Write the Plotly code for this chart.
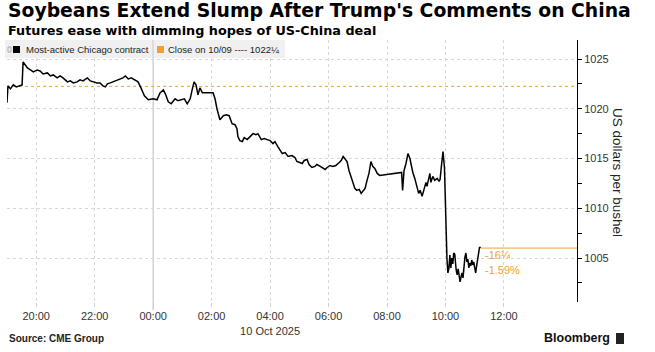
import pandas as pd
import plotly.graph_objects as go

# ---------------- data ----------------
times = [
    "19:00", "19:02", "19:07", "19:13", "19:19", "19:27", "19:31", "19:33", "19:37", "19:42",
    "19:48", "19:54", "20:02", "20:08", "20:14", "20:23", "20:29", "20:35", "20:43", "20:49",
    "20:55", "21:04", "21:10", "21:16", "21:24", "21:30", "21:36", "21:45", "21:51", "21:57",
    "22:05", "22:11", "22:17", "22:22", "22:26", "22:32", "22:38", "22:46", "22:52", "22:58",
    "23:03", "23:09", "23:15", "23:21", "23:29", "23:35", "23:42", "23:46", "23:50", "00:00",
    "00:08", "00:14", "00:21", "00:25", "00:31", "00:37", "00:45", "00:51", "00:57", "01:04",
    "01:10", "01:16", "01:20", "01:24", "01:28", "01:32", "01:36", "01:41", "01:49", "01:57",
    "02:03", "02:07", "02:11", "02:17", "02:24", "02:30", "02:36", "02:42", "02:48", "02:52",
    "02:54", "02:58", "03:03", "03:07", "03:13", "03:19", "03:25", "03:31", "03:35", "03:42",
    "03:48", "03:54", "04:00", "04:06", "04:10", "04:16", "04:21", "04:25", "04:31", "04:37",
    "04:45", "04:51", "04:55", "05:02", "05:06", "05:10", "05:16", "05:20", "05:26", "05:32",
    "05:36", "05:43", "05:49", "05:53", "05:57", "06:03", "06:09", "06:15", "06:22", "06:26",
    "06:30", "06:34", "06:38", "06:42", "06:46", "06:50", "06:54", "06:58", "07:03", "07:07",
    "07:11", "07:15", "07:19", "07:23", "07:27", "07:31", "07:35", "07:40", "07:45",
    "08:30", "08:32", "08:35", "08:39", "08:43", "08:47", "08:50", "08:53", "08:57", "09:02",
    "09:05", "09:08", "09:12", "09:16", "09:20", "09:22", "09:26", "09:28", "09:30", "09:34",
    "09:38", "09:43", "09:47", "09:49", "09:52", "09:55", "09:58", "09:59", "10:01", "10:02",
    "10:03", "10:05", "10:07", "10:09", "10:11", "10:13", "10:15", "10:17", "10:19", "10:22",
    "10:24", "10:26", "10:28", "10:30", "10:32", "10:34", "10:36", "10:38", "10:40", "10:42",
    "10:44", "10:46", "10:48", "10:50", "10:52", "10:54", "10:56", "10:58", "11:00", "11:02",
    "11:04", "11:06", "11:08", "11:10", "11:12",
]
prices = [
    1020.6, 1022.3, 1022.0, 1022.4, 1022.2, 1022.3, 1022.4, 1024.7, 1024.4, 1024.1,
    1023.9, 1023.7, 1023.9, 1023.8, 1023.5, 1023.6, 1023.3, 1023.4, 1023.1, 1023.3,
    1023.1, 1022.7, 1022.8, 1022.6, 1022.7, 1022.9, 1022.8, 1023.1, 1022.8, 1022.7,
    1022.6, 1022.6, 1022.3, 1022.2, 1022.5, 1022.6, 1022.7, 1022.9, 1023.0, 1023.1,
    1023.3, 1023.0, 1023.1, 1022.9, 1022.7, 1022.1, 1021.3, 1021.1, 1020.9, 1021.0,
    1020.9, 1021.6, 1021.9, 1021.5, 1020.7, 1020.5, 1021.0, 1020.8, 1020.9, 1021.0,
    1020.5, 1021.0, 1021.9, 1022.7, 1022.4, 1021.4, 1022.1, 1021.6, 1021.6, 1021.6,
    1021.6, 1021.0, 1020.0, 1018.9, 1019.3, 1019.4, 1019.3, 1018.5, 1018.4, 1018.0,
    1017.2, 1016.8, 1016.7, 1017.1, 1016.9, 1017.2, 1017.5, 1017.4, 1017.5, 1016.9,
    1017.0, 1016.9, 1016.8, 1016.5, 1016.7, 1016.2, 1015.8, 1015.5, 1015.6, 1015.2,
    1015.3, 1015.1, 1014.7, 1014.6, 1014.5, 1014.8, 1014.9, 1014.4, 1014.1, 1014.2,
    1014.4, 1014.2, 1014.0, 1013.9, 1014.1, 1014.3, 1014.2, 1014.3, 1014.6, 1014.8,
    1015.2, 1015.0, 1014.7, 1013.8, 1013.2, 1012.5, 1012.0, 1011.8, 1011.9, 1011.5,
    1011.7, 1012.0, 1012.8, 1013.5, 1014.7, 1014.2, 1014.0, 1013.5, 1013.3,
    1013.6, 1011.8, 1013.8, 1014.5, 1015.5, 1015.0, 1014.2, 1013.6, 1013.0, 1012.0,
    1011.5, 1011.8, 1011.2, 1011.9, 1012.6, 1012.2, 1013.2, 1013.5, 1012.6, 1013.2,
    1012.8, 1013.0, 1012.7, 1012.9, 1014.4, 1015.7, 1014.0, 1012.0, 1008.2, 1006.2,
    1005.0, 1003.5, 1003.9, 1005.3, 1004.0, 1005.0, 1004.4, 1005.5, 1005.4, 1003.8,
    1003.3, 1003.9, 1002.9, 1002.6, 1003.1, 1003.5, 1003.0, 1004.3, 1005.1, 1005.5,
    1004.6, 1004.9, 1004.0, 1004.5, 1004.2, 1004.8, 1004.3, 1004.6, 1003.8, 1003.5,
    1004.2, 1004.8, 1005.4, 1006.1, 1006.0,
]
prev_close = 1022.25
change_text = "-16\u00bc"
change_pct_text = "-1.59%"
tick_times = ["20:00", "22:00", "00:00", "02:00", "04:00", "06:00", "08:00", "10:00", "12:00"]
y_ticks = [1005, 1010, 1015, 1020, 1025]

# -------------- build timestamps --------------
def to_ts(hhmm):
    h = int(hhmm[:2])
    day = "2025-10-09" if h >= 19 else "2025-10-10"
    return pd.Timestamp(f"{day} {hhmm}")

x_ts = [to_ts(t) for t in times]
tick_ts = [to_ts(t) for t in tick_times]
tick_text = [t if t != "04:00" else "04:00<br>10 Oct 2025" for t in tick_times]

x_start = pd.Timestamp("2025-10-09 19:00")
x_end = pd.Timestamp("2025-10-10 14:30")
midnight = pd.Timestamp("2025-10-10 00:00")

ORANGE = "#f0a030"
FONT = "Liberation Sans"
W, H = 655, 352
L, R, T, B = 7, 78, 40, 50
PW, PH = W - L - R, H - T - B

def px(xp):
    return (xp - L) / PW

def py(yp):
    return (H - B - yp) / PH

fig = go.Figure()

# previous close dotted line
fig.add_trace(go.Scatter(x=[x_start, x_end], y=[prev_close, prev_close], mode="lines",
                         line=dict(color=ORANGE, width=1, dash="dot"), hoverinfo="skip",
                         showlegend=False))
# last price line
fig.add_trace(go.Scatter(x=[x_ts[-1], x_end], y=[prices[-1], prices[-1]], mode="lines",
                         line=dict(color=ORANGE, width=1), hoverinfo="skip", showlegend=False))
# main series
fig.add_trace(go.Scatter(x=x_ts, y=prices, mode="lines",
                         line=dict(color="#000000", width=1.5), showlegend=False))

shapes = []
# midnight solid line
shapes.append(dict(type="line", xref="x", yref="paper", x0=midnight, x1=midnight, y0=-0.03, y1=1,
                   line=dict(color="#b8b8b8", width=1), layer="below"))
# legend box
shapes.append(dict(type="rect", xref="paper", yref="paper", x0=px(5), x1=px(285), y0=py(58), y1=py(40),
                   fillcolor="#f0f0f0", line=dict(width=0), layer="above"))
shapes.append(dict(type="line", xref="paper", yref="paper", x0=px(153), x1=px(153), y0=py(58), y1=py(40),
                   line=dict(color="#c8c8c8", width=1)))
shapes.append(dict(type="rect", xref="paper", yref="paper", x0=px(13), x1=px(20), y0=py(53), y1=py(46),
                   fillcolor="#000000", line=dict(width=0)))
shapes.append(dict(type="rect", xref="paper", yref="paper", x0=px(157), x1=px(164), y0=py(53), y1=py(46),
                   fillcolor=ORANGE, line=dict(width=0)))
# tiny icon in legend
shapes.append(dict(type="rect", xref="paper", yref="paper", x0=px(8), x1=px(11), y0=py(52), y1=py(47),
                   fillcolor="rgba(0,0,0,0)", line=dict(color="#aaaaaa", width=1)))
# bloomberg logo mark
shapes.append(dict(type="rect", xref="paper", yref="paper", x0=px(616), x1=px(624), y0=py(344), y1=py(333),
                   fillcolor="#222222", line=dict(width=0)))

annotations = [
    dict(text="<b>Soybeans Extend Slump After Trump's Comments on China</b>", xref="paper", yref="paper",
         x=px(6), y=py(-2), xanchor="left", yanchor="top", showarrow=False,
         font=dict(family="DejaVu Sans", size=18.8, color="#000000")),
    dict(text="<b>Futures ease with dimming hopes of US-China deal</b>", xref="paper", yref="paper",
         x=px(6), y=py(21.5), xanchor="left", yanchor="top", showarrow=False,
         font=dict(family="DejaVu Sans", size=12.8, color="#000000")),
    dict(text="Most-active Chicago contract", xref="paper", yref="paper", x=px(24), y=py(49.5),
         xanchor="left", yanchor="middle", showarrow=False, font=dict(family=FONT, size=9.5, color="#222222")),
    dict(text="Close on 10/09 ---- 1022\u00bc", xref="paper", yref="paper", x=px(166), y=py(49.5),
         xanchor="left", yanchor="middle", showarrow=False, font=dict(family=FONT, size=9.5, color="#222222")),
    dict(text="US dollars per bushel", xref="paper", yref="paper", x=px(618), y=py(172), textangle=90,
         xanchor="center", yanchor="middle", showarrow=False, font=dict(family=FONT, size=13.5, color="#222222")),
    dict(text=change_text, xref="x", yref="y", x=x_ts[-1], y=1005.3, xanchor="left", yanchor="middle",
         xshift=2, showarrow=False, font=dict(family=FONT, size=11, color=ORANGE)),
    dict(text=change_pct_text, xref="x", yref="y", x=x_ts[-1], y=1003.8, xanchor="left", yanchor="middle",
         xshift=2, showarrow=False, font=dict(family=FONT, size=11, color=ORANGE)),
    dict(text="<b>Source: CME Group</b>", xref="paper", yref="paper", x=px(7), y=py(338),
         xanchor="left", yanchor="middle", showarrow=False, font=dict(family=FONT, size=10, color="#222222")),
    dict(text="<b>Bloomberg</b>", xref="paper", yref="paper", x=px(612), y=py(338),
         xanchor="right", yanchor="middle", showarrow=False, font=dict(family=FONT, size=12.5, color="#111111")),
]

fig.update_layout(
    width=W, height=H,
    margin=dict(l=L, r=R, t=T, b=B),
    paper_bgcolor="white", plot_bgcolor="white",
    showlegend=False,
    shapes=shapes,
    annotations=annotations,
    font=dict(family=FONT, size=11, color="#333333"),
    xaxis=dict(
        type="date", range=[x_start, x_end],
        tickmode="array", tickvals=tick_ts, ticktext=tick_text,
        showgrid=True, gridcolor="#d8d8d8", griddash="dot", gridwidth=1,
        ticks="outside", ticklen=4, tickcolor="#d0d0d0",
        showline=False, zeroline=False,
        tickfont=dict(family=FONT, size=11, color="#333333"),
    ),
    yaxis=dict(
        side="right", range=[1000.58, 1026.91],
        tickmode="array", tickvals=y_ticks,
        showgrid=True, gridcolor="#d8d8d8", griddash="dot", gridwidth=1,
        showline=True, linecolor="#000000", linewidth=1,
        ticks="outside", ticklen=4, tickcolor="#000000",
        minor=dict(dtick=2.5, ticks="outside", ticklen=4, tickcolor="#000000", showgrid=False),
        zeroline=False,
        tickfont=dict(family=FONT, size=11, color="#333333"),
    ),
)

fig.write_html("out.html")
